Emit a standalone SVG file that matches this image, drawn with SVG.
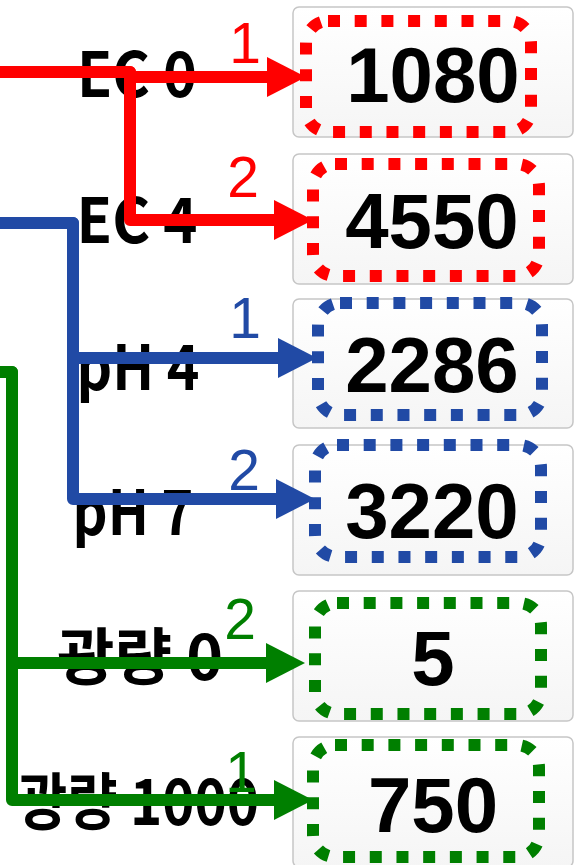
<svg xmlns="http://www.w3.org/2000/svg" width="578" height="865" viewBox="0 0 578 865">
  <style>
    .card { fill: url(#cardFill); stroke: #c6c6c6; stroke-width: 1.5; }
    .ring { fill: none; stroke-width: 12; stroke-dasharray: 12 14.7; }
    .val { font-family: "Liberation Sans", Arial, sans-serif; font-weight: bold; font-size: 78px; fill: #000; text-anchor: middle; }
    .lbl { font-family: "Noto Sans CJK KR", "Noto Sans", sans-serif; font-weight: bold; font-size: 62px; fill: #000; text-anchor: middle; }
    .num { font-family: "Liberation Sans", Arial, sans-serif; font-size: 57px; text-anchor: middle; }
    .edge { fill: none; stroke-width: 12; stroke-linejoin: round; }
    .red { stroke: #ff0000; }
    .blue { stroke: #214aa5; }
    .green { stroke: #007f00; }
  </style>
  <defs>
    <linearGradient id="cardFill" x1="0" y1="0" x2="0" y2="1">
      <stop offset="0" stop-color="#ffffff"/>
      <stop offset="1" stop-color="#f5f5f5"/>
    </linearGradient>
    <marker id="headRed" markerUnits="userSpaceOnUse" markerWidth="40" markerHeight="40" refX="0" refY="20" orient="auto" viewBox="0 0 40 40">
      <path d="M0,0 L39,20 L0,40 Z" fill="#ff0000"/>
    </marker>
    <marker id="headBlue" markerUnits="userSpaceOnUse" markerWidth="40" markerHeight="40" refX="0" refY="20" orient="auto" viewBox="0 0 40 40">
      <path d="M0,0 L39,20 L0,40 Z" fill="#214aa5"/>
    </marker>
    <marker id="headGreen" markerUnits="userSpaceOnUse" markerWidth="40" markerHeight="40" refX="0" refY="20" orient="auto" viewBox="0 0 40 40">
      <path d="M0,0 L39,20 L0,40 Z" fill="#007f00"/>
    </marker>
  </defs>

  <rect width="578" height="865" fill="#ffffff"/>

  <!-- row labels -->
  <g id="labels">
    <text class="lbl" x="137" y="97" textLength="120" lengthAdjust="spacingAndGlyphs">EC 0</text>
    <text class="lbl" x="137" y="243" textLength="121" lengthAdjust="spacingAndGlyphs">EC 4</text>
    <text class="lbl" x="138" y="390" textLength="123" lengthAdjust="spacingAndGlyphs">pH 4</text>
    <text class="lbl" x="133" y="535" textLength="121" lengthAdjust="spacingAndGlyphs">pH 7</text>
    <text class="lbl" x="140" y="680" textLength="166" lengthAdjust="spacingAndGlyphs">광량 0</text>
    <text class="lbl" x="138" y="825" textLength="242" lengthAdjust="spacingAndGlyphs">광량 1000</text>
  </g>

  <!-- value cards -->
  <g id="ec0">
    <rect class="card" x="293" y="7" width="280" height="130" rx="6"/>
    <rect class="ring red" x="306" y="21" width="225" height="111" rx="22"/>
    <text class="val" x="433" y="102">1080</text>
  </g>
  <g id="ec4">
    <rect class="card" x="293" y="154" width="280" height="130" rx="6"/>
    <rect class="ring red" x="313" y="164" width="226" height="112" rx="22"/>
    <text class="val" x="432" y="248">4550</text>
  </g>
  <g id="ph4">
    <rect class="card" x="293" y="299" width="280" height="129" rx="6"/>
    <rect class="ring blue" x="318" y="303" width="224" height="112" rx="22"/>
    <text class="val" x="432" y="392">2286</text>
  </g>
  <g id="ph7">
    <rect class="card" x="293" y="445" width="280" height="130" rx="6"/>
    <rect class="ring blue" x="315" y="445" width="226" height="112" rx="22"/>
    <text class="val" x="432" y="538">3220</text>
  </g>
  <g id="light0">
    <rect class="card" x="293" y="591" width="280" height="130" rx="6"/>
    <rect class="ring green" x="315" y="603" width="226" height="111" rx="22"/>
    <text class="val" x="433" y="685">5</text>
  </g>
  <g id="light1000">
    <rect class="card" x="293" y="737" width="280" height="130" rx="6"/>
    <rect class="ring green" x="313" y="745" width="226" height="112" rx="22"/>
    <text class="val" x="433" y="832">750</text>
  </g>

  <!-- connectors -->
  <g id="connectors">
    <path class="edge red" d="M0,72 H130 V77 H267" marker-end="url(#headRed)"/>
    <path class="edge red" d="M0,72 H130 V220 H274" marker-end="url(#headRed)"/>
    <path class="edge blue" d="M0,223 H73 V358 H278" marker-end="url(#headBlue)"/>
    <path class="edge blue" d="M0,223 H73 V499 H276" marker-end="url(#headBlue)"/>
    <path class="edge green" d="M0,372 H12 V663 H266" marker-end="url(#headGreen)"/>
    <path class="edge green" d="M0,372 H12 V800 H274" marker-end="url(#headGreen)"/>

    <text class="num" x="245" y="63" fill="#ff0000">1</text>
    <text class="num" x="243" y="197" fill="#ff0000">2</text>
    <text class="num" x="245" y="338" fill="#214aa5">1</text>
    <text class="num" x="244" y="490" fill="#214aa5">2</text>
    <text class="num" x="240" y="639" fill="#007f00">2</text>
    <text class="num" x="241" y="792" fill="#007f00">1</text>
  </g>
</svg>
